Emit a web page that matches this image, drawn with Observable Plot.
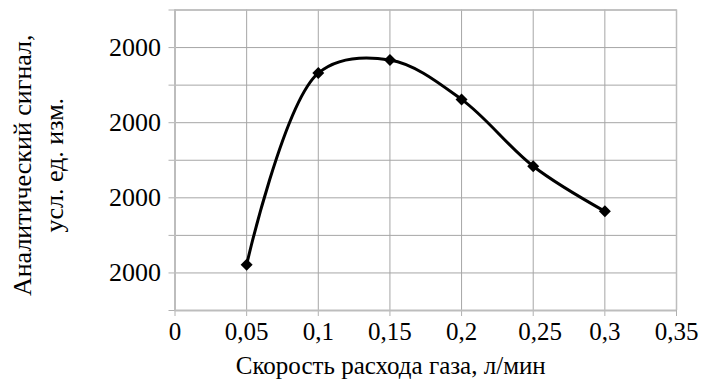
<!DOCTYPE html>
<html><head><meta charset="utf-8">
<script src="https://cdn.jsdelivr.net/npm/d3@7"></script>
<script src="https://cdn.jsdelivr.net/npm/@observablehq/plot@0.6"></script>
<style>
body{margin:0;background:#fff}
#chart svg, #chart text { font-family: "Liberation Serif", serif !important; }
</style>
</head><body><div id="chart"></div>
<script>
const flow = [0.05, 0.1, 0.15, 0.2, 0.25, 0.3];
const signal = [1.22, 6.32, 6.67, 5.62, 3.84, 2.64];
const xTicks = [0, 0.05, 0.1, 0.15, 0.2, 0.25, 0.3, 0.35];
const xTickLabels = ["0", "0,05", "0,1", "0,15", "0,2", "0,25", "0,3", "0,35"];
const yGrid = [0, 1, 2, 3, 4, 5, 6, 7, 8];
const yTicks = [1, 3, 5, 7];
const yTickLabels = ["2000", "2000", "2000", "2000"];
const xTitle = "Скорость расхода газа, л/мин";
const yTitle = ["Аналитический сигнал,", "усл. ед. изм."];

const data = flow.map((f, i) => ({x: f, y: signal[i]}));
const font = "Liberation Serif";
const xLabel = d => xTickLabels[xTicks.indexOf(d)];
const xTicksMain = xTicks.filter(d => d !== 0.25);
const xTicksShifted = xTicks.filter(d => d === 0.25);

const chart = Plot.plot({
  width: 725,
  height: 382,
  marginLeft: 174.5,
  marginRight: 49,
  marginTop: 9.5,
  marginBottom: 72,
  style: {fontFamily: font, fontSize: "25px", color: "#000", background: "#fff"},
  x: {domain: [0, 0.35]},
  y: {domain: [0, 8]},
  marks: [
    Plot.ruleX(xTicks, {x: d => d, stroke: "#a6a6a6", strokeWidth: 1}),
    Plot.ruleY(yGrid, {y: d => d, stroke: "#a6a6a6", strokeWidth: 1}),
    Plot.axisY(yGrid, {tickSize: 6, tickFormat: () => "", stroke: "#b0b0b0", label: null}),
    Plot.axisX(xTicks, {tickSize: 6, tickFormat: () => "", stroke: "#b0b0b0", label: null}),
    Plot.axisX(xTicksMain, {tickSize: 0, tickPadding: 12, label: null,
      tickFormat: xLabel, fontSize: 25, fill: "#000", fontFamily: font}),
    Plot.axisX(xTicksShifted, {tickSize: 0, tickPadding: 12, label: null, dx: 7,
      tickFormat: xLabel, fontSize: 25, fill: "#000", fontFamily: font}),
    Plot.axisY(yTicks, {tickSize: 0, tickPadding: 14, label: null,
      tickFormat: d => yTickLabels[yTicks.indexOf(d)], fontSize: 26, fill: "#000", fontFamily: font}),
    Plot.ruleX([0], {stroke: "#bdbdbd", strokeWidth: 2}),
    Plot.ruleY([0], {stroke: "#bdbdbd", strokeWidth: 2}),
    Plot.ruleX([0.35], {stroke: "#bdbdbd", strokeWidth: 1.5}),
    Plot.ruleY([8], {stroke: "#bdbdbd", strokeWidth: 1.5}),
    Plot.line(data, {x: "x", y: "y", curve: "catmull-rom", stroke: "#000", strokeWidth: 3}),
    Plot.dot(data, {x: "x", y: "y", symbol: "diamond2", r: 5.4, fill: "#000", stroke: "none"}),
    Plot.text([xTitle], {text: d => d, frameAnchor: "bottom", textAnchor: "middle", lineAnchor: "middle", dx: -35, dy: 55, fontSize: 25, fill: "#000", fontFamily: font}),
    Plot.text([yTitle[0]], {text: d => d, frameAnchor: "left", textAnchor: "middle", lineAnchor: "middle", rotate: -90, dx: -152, dy: 5, fontSize: 26, fill: "#000", fontFamily: font}),
    Plot.text([yTitle[1]], {text: d => d, frameAnchor: "left", textAnchor: "middle", lineAnchor: "middle", rotate: -90, dx: -120.5, dy: 5, fontSize: 26, fill: "#000", fontFamily: font})
  ]
});
document.getElementById("chart").appendChild(chart);
</script>
</body></html>
